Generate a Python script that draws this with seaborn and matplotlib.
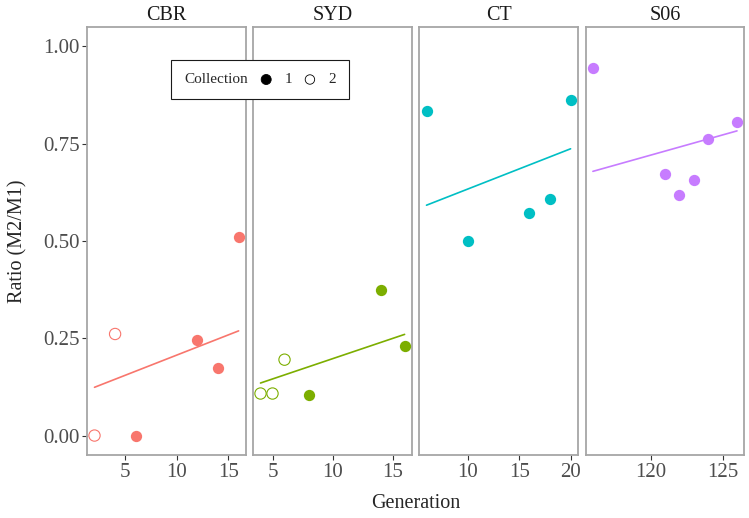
import numpy as np
import pandas as pd
import matplotlib
matplotlib.use("Agg")
import matplotlib.pyplot as plt
import seaborn as sns
from matplotlib.ticker import MultipleLocator, FormatStrFormatter
from matplotlib.offsetbox import TextArea, DrawingArea, HPacker, AnchoredOffsetbox
from matplotlib.patches import Circle

# ---------------- data ----------------
sites = ["CBR", "SYD", "CT", "S06"]
site_colors = ["#F8766D", "#7CAE00", "#00BFC4", "#C77CFF"]

cbr_gen = [2, 4, 6, 12, 14, 16]
cbr_ratio = [0.0, 0.261, 0.0, 0.246, 0.174, 0.509]
cbr_coll = [2, 2, 1, 1, 1, 1]

syd_gen = [4, 5, 6, 8, 14, 16]
syd_ratio = [0.108, 0.108, 0.195, 0.103, 0.373, 0.231]
syd_coll = [2, 2, 2, 1, 1, 1]

ct_gen = [6, 10, 16, 18, 20]
ct_ratio = [0.834, 0.501, 0.573, 0.609, 0.863]
ct_coll = [1, 1, 1, 1, 1]

s06_gen = [116, 121, 122, 123, 124, 126]
s06_ratio = [0.944, 0.671, 0.619, 0.656, 0.762, 0.805]
s06_coll = [1, 1, 1, 1, 1, 1]

# fitted line values at the first and last generation of each site
cbr_fit = [0.124, 0.269]
syd_fit = [0.135, 0.260]
ct_fit = [0.592, 0.737]
s06_fit = [0.679, 0.783]

y_ticks = [0.0, 0.25, 0.50, 0.75, 1.00]

gens = [cbr_gen, syd_gen, ct_gen, s06_gen]
ratios = [cbr_ratio, syd_ratio, ct_ratio, s06_ratio]
colls = [cbr_coll, syd_coll, ct_coll, s06_coll]
fits = [cbr_fit, syd_fit, ct_fit, s06_fit]

df = pd.concat([
    pd.DataFrame({"Site": s, "Generation": g, "Ratio": r, "Collection": c})
    for s, g, r, c in zip(sites, gens, ratios, colls)
], ignore_index=True)

fit_df = pd.concat([
    pd.DataFrame({"Site": s, "Generation": [min(g), max(g)], "Ratio": f})
    for s, g, f in zip(sites, gens, fits)
], ignore_index=True)

# ---------------- figure ----------------
sns.set_theme(style="ticks")
plt.rcParams["font.family"] = ["Liberation Serif", "DejaVu Serif"]

W, H = 749, 518
fig = plt.figure(figsize=(W / 100, H / 100), dpi=100)

lefts = [87.3, 253.3, 419.3, 585.7]
pw = 158.5
top_px, bot_px = 27, 455

text_grey = "#4D4D4D"
for i, (site, col) in enumerate(zip(sites, site_colors)):
    ax = fig.add_axes([lefts[i] / W, 1 - bot_px / H, pw / W, (bot_px - top_px) / H])
    sub = df[df["Site"] == site]
    fsub = fit_df[fit_df["Site"] == site]
    sns.lineplot(data=fsub, x="Generation", y="Ratio", color=col, lw=1.2, ax=ax)
    filled = sub[sub["Collection"] == 1]
    hollow = sub[sub["Collection"] == 2]
    if len(filled):
        sns.scatterplot(data=filled, x="Generation", y="Ratio", color=col,
                        s=66, linewidth=0, ax=ax, zorder=3)
    if len(hollow):
        sns.scatterplot(data=hollow, x="Generation", y="Ratio",
                        facecolors="none", edgecolors=col,
                        s=66, linewidth=0.8, ax=ax, zorder=3)
    gmin, gmax = min(gens[i]), max(gens[i])
    pad = 0.05 * (gmax - gmin)
    ax.set_xlim(gmin - pad, gmax + pad)
    ax.set_ylim(-0.05, 1.05)
    ax.xaxis.set_major_locator(MultipleLocator(5))
    ax.set_yticks(y_ticks)
    ax.yaxis.set_major_formatter(FormatStrFormatter("%.2f"))
    ax.set_xlabel("")
    ax.set_ylabel("")
    ax.tick_params(axis="both", which="major", direction="out", length=3.5,
                   width=0.8, color="#333333", labelcolor=text_grey,
                   labelsize=15, pad=2, bottom=True, left=True)
    if i > 0:
        ax.tick_params(axis="y", left=False, labelleft=False)
    for sp in ax.spines.values():
        sp.set_visible(True)
        sp.set_color("#A6A6A6")
        sp.set_linewidth(1.3)
    ax.set_title(site, fontsize=14.5, color="#1A1A1A", pad=5)
    if ax.get_legend():
        ax.get_legend().remove()

fig.text(18 / W, 1 - 241 / H, "Ratio (M2/M1)", rotation=90, ha="center",
         va="center", fontsize=14.5)
fig.text(416 / W, 1 - 503 / H, "Generation", ha="center", va="center",
         fontsize=14.5)

# ---------------- legend ----------------
fs = 11
title = TextArea("Collection", textprops=dict(fontsize=fs, family=["Liberation Serif"]))
d1 = DrawingArea(8, 8, 0, 0)
d1.add_artist(Circle((4, 4), 3.6, fc="black", ec="black", lw=0.6))
t1 = TextArea("1", textprops=dict(fontsize=fs, family=["Liberation Serif"]))
d2 = DrawingArea(8, 8, 0, 0)
d2.add_artist(Circle((4, 4), 3.4, fc="none", ec="black", lw=0.6))
t2 = TextArea("2", textprops=dict(fontsize=fs, family=["Liberation Serif"]))
box = HPacker(children=[title, d1, t1, d2, t2], align="center", pad=0, sep=9)
anchored = AnchoredOffsetbox(loc="center", child=box, pad=0.85, borderpad=0,
                             frameon=True,
                             bbox_to_anchor=(260 / W, 1 - 79.5 / H),
                             bbox_transform=fig.transFigure)
anchored.patch.set_edgecolor("#1A1A1A")
anchored.patch.set_linewidth(0.8)
anchored.patch.set_facecolor("white")
anchored.set_zorder(10)
fig.add_artist(anchored)

fig.savefig("out.png", dpi=100)
